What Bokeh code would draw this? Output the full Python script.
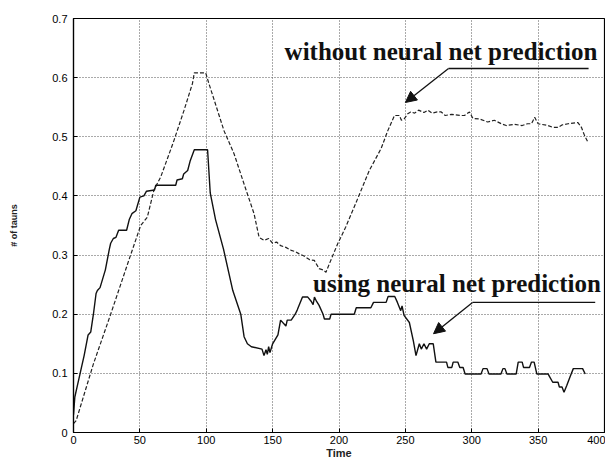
from bokeh.plotting import figure
from bokeh.models import Range1d, FixedTicker, CustomJSTickFormatter, Arrow, NormalHead
from bokeh.core.properties import value
from bokeh.embed import file_html
from bokeh.resources import INLINE

# ---- data ----
nn_time = [0, 1, 3, 5, 6, 8, 11, 13, 15, 17, 18, 20, 24, 27, 28, 30, 32, 34, 40, 42, 44, 47,
           50, 53, 55, 61, 62, 77, 78, 82, 83, 86, 88, 91, 101, 103, 107, 113, 117, 120, 126,
           128.5, 131, 134, 142, 143.5, 145, 146, 147, 148, 150, 154, 156, 160, 161, 164, 167,
           168.5, 172.5, 176.5, 179, 180.5, 181.5, 183, 185, 188, 189, 193, 194, 211.5, 213,
           224, 226, 235.5, 237, 242, 244, 246.5, 247.5, 249, 253, 256, 258, 260.5, 262, 264,
           266, 268, 271, 273, 281, 282, 285, 286, 289.5, 291, 293.5, 295, 307, 308.5, 311.5,
           313, 322, 323.5, 325, 326.5, 333.5, 335, 338, 339, 343.5, 345, 347, 349, 357.5,
           358.5, 361, 365, 366, 368, 369.5, 371.5, 374, 376.5, 383.5, 385.5]
nn_value = [0.03, 0.06, 0.08, 0.10, 0.11, 0.13, 0.165, 0.17, 0.20, 0.235, 0.24, 0.245, 0.275,
            0.31, 0.32, 0.328, 0.33, 0.342, 0.342, 0.36, 0.37, 0.375, 0.398, 0.40, 0.408, 0.41,
            0.418, 0.418, 0.427, 0.429, 0.437, 0.443, 0.46, 0.478, 0.478, 0.405, 0.36, 0.31,
            0.27, 0.24, 0.20, 0.162, 0.15, 0.145, 0.141, 0.13, 0.14, 0.132, 0.145, 0.135, 0.15,
            0.165, 0.19, 0.18, 0.19, 0.19, 0.20, 0.207, 0.229, 0.229, 0.222, 0.216, 0.229, 0.222,
            0.215, 0.20, 0.192, 0.192, 0.20, 0.20, 0.211, 0.211, 0.22, 0.22, 0.23, 0.23, 0.22,
            0.206, 0.214, 0.198, 0.186, 0.155, 0.13, 0.15, 0.141, 0.15, 0.141, 0.15, 0.15, 0.119,
            0.119, 0.11, 0.11, 0.119, 0.119, 0.11, 0.11, 0.099, 0.099, 0.108, 0.108, 0.099,
            0.099, 0.108, 0.108, 0.099, 0.099, 0.119, 0.119, 0.11, 0.11, 0.119, 0.119, 0.099,
            0.099, 0.095, 0.085, 0.085, 0.077, 0.077, 0.068, 0.079, 0.094, 0.108, 0.108, 0.099]

plain_time = [0, 2, 15, 28, 43, 50.6, 55.6, 60.6, 65.7, 73, 75.7, 83.3, 89.6, 91, 99.6, 102, 107,
              113.4, 121, 128.5, 136, 139.8, 143.6, 147, 150, 153, 156, 160, 164, 167, 170, 174,
              178, 181.4, 185, 188, 190.2, 192.7, 199, 205, 214, 222.8, 231.7, 236.7, 241.8,
              245.5, 247, 249, 251.8, 254, 257, 260, 264, 267, 270, 274, 277, 280, 285, 292,
              294.5, 298.3, 300.9, 306, 312, 317, 322.3, 326, 332, 338, 342, 345, 347.4, 350,
              357.5, 361, 365, 368, 372.6, 380, 382.6, 385, 387.5]
plain_value = [0.015, 0.02, 0.116, 0.20, 0.30, 0.35, 0.364, 0.41, 0.432, 0.477, 0.494, 0.545,
               0.59, 0.608, 0.608, 0.59, 0.555, 0.51, 0.471, 0.42, 0.37, 0.33, 0.325, 0.328,
               0.32, 0.322, 0.316, 0.313, 0.308, 0.306, 0.302, 0.298, 0.292, 0.291, 0.277, 0.275,
               0.271, 0.285, 0.319, 0.347, 0.395, 0.443, 0.48, 0.51, 0.536, 0.536, 0.528, 0.53,
               0.539, 0.542, 0.540, 0.545, 0.541, 0.545, 0.540, 0.542, 0.542, 0.536, 0.538,
               0.536, 0.536, 0.542, 0.531, 0.530, 0.525, 0.528, 0.522, 0.519, 0.521, 0.519,
               0.522, 0.522, 0.533, 0.522, 0.519, 0.516, 0.516, 0.52, 0.522, 0.524, 0.516, 0.502,
               0.491]

x_ticks = [0, 50, 100, 150, 200, 250, 300, 350, 400]
y_ticks = [0, 0.1, 0.2, 0.3, 0.4, 0.5, 0.6, 0.7]
label_without = "without neural net prediction"
label_using = "using neural net prediction"

FONT = "Liberation Sans"

p = figure(width=605, height=461, output_backend="svg", toolbar_location=None,
           x_range=Range1d(0, 400), y_range=Range1d(0, 0.7),
           min_border_left=73, min_border_right=1, min_border_top=18, min_border_bottom=29)
p.background_fill_color = "white"
p.border_fill_color = "white"
p.outline_line_color = "black"
p.outline_line_width = 1.2

# grid
for g in (p.xgrid, p.ygrid):
    g.grid_line_color = "#555555"
    g.grid_line_dash = "1 2"
    g.grid_line_width = 1

p.xaxis.ticker = FixedTicker(ticks=x_ticks)
p.yaxis.ticker = FixedTicker(ticks=y_ticks)
p.yaxis.formatter = CustomJSTickFormatter(code="return tick == 0 ? '0' : tick.toFixed(1);")

for ax in (p.xaxis, p.yaxis):
    ax.axis_line_color = "black"
    ax.axis_line_width = 1.2
    ax.major_tick_in = 4
    ax.major_tick_out = 0
    ax.minor_tick_line_color = None
    ax.major_tick_line_color = "black"
    ax.major_label_text_font = FONT
    ax.major_label_text_font_size = "11px"
    ax.major_label_text_color = "black"
    ax.axis_label_text_font = FONT
    ax.axis_label_text_font_style = "bold"
    ax.axis_label_text_color = "#222222"

p.xaxis.major_label_standoff = 3
p.yaxis.major_label_standoff = 6
p.xaxis.axis_label = "Time"
p.xaxis.axis_label_text_font_size = "11px"
p.xaxis.axis_label_standoff = 0
p.yaxis.axis_label = "# of tauns"
p.yaxis.axis_label_text_font_size = "9px"
p.yaxis.axis_label_standoff = 30

# series
p.line(plain_time, plain_value, line_color="#222222", line_width=1.2, line_dash="4 2")
p.line(nn_time, nn_value, line_color="#111111", line_width=1.4)

# annotations
p.text(x=[159.0], y=[0.645], text=[label_without], text_font=value("Liberation Serif"),
       text_font_style="bold", text_font_size="25px", text_color="#111111",
       text_baseline="alphabetic", text_align="left")
p.text(x=[180.5], y=[0.252], text=[label_using], text_font=value("Liberation Serif"),
       text_font_style="bold", text_font_size="25px", text_color="#111111",
       text_baseline="alphabetic", text_align="left")

p.line([282.5, 388], [0.6155, 0.6155], line_color="#111111", line_width=1.3)
p.line([300.6, 393], [0.22, 0.22], line_color="#111111", line_width=1.3)
p.add_layout(Arrow(end=NormalHead(size=11, fill_color="#111111", line_color="#111111"),
                   x_start=282.5, y_start=0.6155, x_end=250, y_end=0.558,
                   line_color="#111111", line_width=1.3))
p.add_layout(Arrow(end=NormalHead(size=11, fill_color="#111111", line_color="#111111"),
                   x_start=300.6, y_start=0.22, x_end=271.2, y_end=0.167,
                   line_color="#111111", line_width=1.3))

open("out.html", "w").write(file_html(p, INLINE))
